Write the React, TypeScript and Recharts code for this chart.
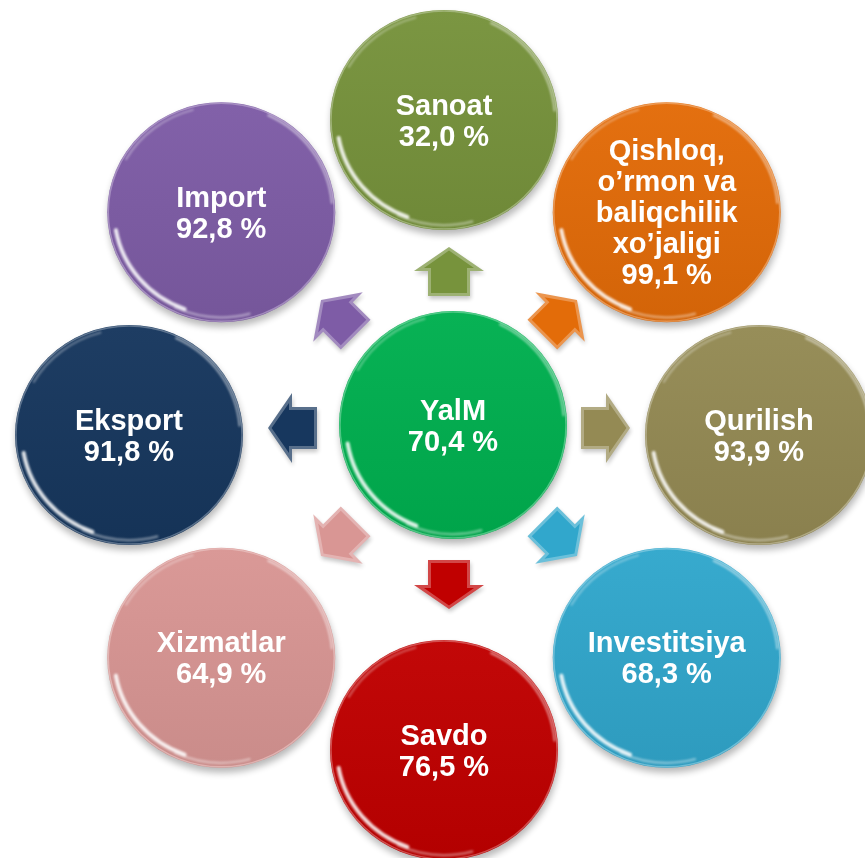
import React from "react";
import { PieChart, Pie } from "recharts";

// sector names (line breaks where the bubble wraps) and their shares, clockwise from the top
const SECTORS = [
  "Sanoat",
  "Qishloq,\no’rmon va\nbaliqchilik\nxo’jaligi",
  "Qurilish",
  "Investitsiya",
  "Savdo",
  "Xizmatlar",
  "Eksport",
  "Import",
];
const SHARES = [32.0, 99.1, 93.9, 68.3, 76.5, 64.9, 91.8, 92.8];
const TOTAL_NAME = "YalM";
const TOTAL_SHARE = 70.4;

const COLORS = ["#77933C", "#E36C09", "#948A54", "#31A7CC", "#C00000", "#D99694", "#17375E", "#7E5CA6"];
const TOTAL_COLOR = "#00B050";

const FONT = "'Liberation Sans', Arial, sans-serif";
const RAD = Math.PI / 180;

const mix = (hex: string, target: string, t: number) => {
  const p = (h: string) => [1, 3, 5].map((i) => parseInt(h.slice(i, i + 2), 16));
  const a = p(hex);
  const b = p(target);
  return "#" + a.map((v, i) => Math.round(v + (b[i] - v) * t).toString(16).padStart(2, "0")).join("");
};

const fmt = (v: number) => `${v.toFixed(1).replace(".", ",")} %`;

function arcPath(x: number, y: number, rx: number, ry: number, a0: number, a1: number) {
  const p = (a: number) => [x + rx * Math.cos(a * RAD), y - ry * Math.sin(a * RAD)];
  const [x0, y0] = p(a0);
  const [x1, y1] = p(a1);
  return `M${x0},${y0} A${rx},${ry} 0 ${a1 - a0 > 180 ? 1 : 0} 0 ${x1},${y1}`;
}

function Bubble({ id, x, y, rx, ry, color, lines }: { id: string; x: number; y: number; rx: number; ry: number; color: string; lines: string[] }) {
  const lh = 31;
  const n = lines.length;
  return (
    <g>
      <defs>
        <linearGradient id={`${id}-g`} x1="0" y1="0" x2="0" y2="1">
          <stop offset="0%" stopColor={mix(color, "#ffffff", 0.03)} />
          <stop offset="100%" stopColor={mix(color, "#000000", 0.07)} />
        </linearGradient>
        <filter id={`${id}-sh`} x="-30%" y="-30%" width="160%" height="160%">
          <feGaussianBlur stdDeviation="3.5" />
        </filter>
        <filter id={`${id}-bl`} x="-30%" y="-30%" width="160%" height="160%">
          <feGaussianBlur stdDeviation="1" />
        </filter>
      </defs>
      <ellipse cx={x + 1} cy={y + 5} rx={rx} ry={ry} fill="#000" opacity={0.28} filter={`url(#${id}-sh)`} />
      <ellipse cx={x} cy={y} rx={rx} ry={ry} fill={`url(#${id}-g)`} />
      <ellipse cx={x} cy={y} rx={rx - 1} ry={ry - 1} fill="none" stroke={mix(color, "#ffffff", 0.5)} strokeWidth={1.5} opacity={0.6} />
      <g filter={`url(#${id}-bl)`} fill="none" stroke="#fff" strokeLinecap="round">
        <path d={arcPath(x, y, rx - 7, ry - 7, 190, 250)} strokeWidth={4} opacity={0.85} />
        <path d={arcPath(x, y, rx - 5, ry - 5, 245, 285)} strokeWidth={2.5} opacity={0.4} />
        <path d={arcPath(x, y, rx - 3, ry - 3, 5, 65)} strokeWidth={2} opacity={0.55} />
        <path d={arcPath(x, y, rx - 4, ry - 4, 105, 150)} strokeWidth={2} opacity={0.35} />
      </g>
      {lines.map((t, i) => (
        <text
          key={i}
          x={x}
          y={y + (i - (n - 1) / 2) * lh + 10}
          textAnchor="middle"
          fontFamily={FONT}
          fontSize={29}
          fontWeight="bold"
          fill="#fff"
        >
          {t}
        </text>
      ))}
    </g>
  );
}

const OUTER = "-25,-21 0,-21 0,-35 24,0 0,35 0,21 -25,21";
const INNER = "-22,-18 3,-18 3,-25 20.4,0 3,25 3,18 -22,18";

function Arrow({ id, x, y, angle, color }: { id: string; x: number; y: number; angle: number; color: string }) {
  return (
    <g>
      <defs>
        <filter id={`${id}-sh`} x="-50%" y="-50%" width="200%" height="200%">
          <feGaussianBlur stdDeviation="2" />
        </filter>
      </defs>
      <g transform={`translate(${x + 1},${y + 3}) rotate(${-angle})`}>
        <polygon points={OUTER} fill="#000" opacity={0.22} filter={`url(#${id}-sh)`} />
      </g>
      <g transform={`translate(${x},${y}) rotate(${-angle})`}>
        <polygon points={OUTER} fill={mix(color, "#ffffff", 0.28)} />
        <polygon points={INNER} fill={color} />
      </g>
    </g>
  );
}

const renderArrow = (props: any) => {
  const { cx, cy, midAngle, innerRadius, outerRadius, index } = props;
  const r = (innerRadius + outerRadius) / 2;
  return (
    <Arrow
      id={`arrow-${index}`}
      x={cx + r * Math.cos(midAngle * RAD)}
      y={cy - r * Math.sin(midAngle * RAD)}
      angle={midAngle}
      color={COLORS[index]}
    />
  );
};

const renderBubble = (props: any) => {
  const { cx, cy, midAngle, outerRadius, index } = props;
  return (
    <Bubble
      id={`bubble-${index}`}
      x={cx + outerRadius * Math.cos(midAngle * RAD)}
      y={cy - outerRadius * Math.sin(midAngle * RAD)}
      rx={114}
      ry={110}
      color={COLORS[index]}
      lines={[...SECTORS[index].split("\n"), fmt(SHARES[index])]}
    />
  );
};

const renderCenter = (props: any) => {
  const { cx, cy, outerRadius } = props;
  return (
    <Bubble id="bubble-total" x={cx} y={cy} rx={outerRadius} ry={outerRadius} color={TOTAL_COLOR} lines={[TOTAL_NAME, fmt(TOTAL_SHARE)]} />
  );
};

export default function App() {
  const ring = SECTORS.map((name, i) => ({ name, share: SHARES[i], slot: 1 }));
  const center = [{ name: TOTAL_NAME, share: TOTAL_SHARE, slot: 1 }];
  return (
    <div style={{ position: "absolute", left: 0, top: 0, width: 865, height: 858, background: "#fff" }}>
      <PieChart width={865} height={858} margin={{ top: 0, right: 0, bottom: 0, left: 0 }}>
        <Pie
          data={ring}
          dataKey="slot"
          cx={449}
          cy={428}
          innerRadius={134}
          outerRadius={180}
          startAngle={112.5}
          endAngle={-247.5}
          fill="transparent"
          stroke="none"
          labelLine={false}
          label={renderArrow}
          isAnimationActive={false}
        />
        <Pie
          data={ring}
          dataKey="slot"
          cx={444}
          cy={435}
          innerRadius={200}
          outerRadius={315}
          startAngle={112.5}
          endAngle={-247.5}
          fill="transparent"
          stroke="none"
          labelLine={false}
          label={renderBubble}
          isAnimationActive={false}
        />
        <Pie
          data={center}
          dataKey="slot"
          cx={453}
          cy={425}
          innerRadius={0}
          outerRadius={114}
          startAngle={90}
          endAngle={-270}
          fill="transparent"
          stroke="none"
          labelLine={false}
          label={renderCenter}
          isAnimationActive={false}
        />
      </PieChart>
    </div>
  );
}
